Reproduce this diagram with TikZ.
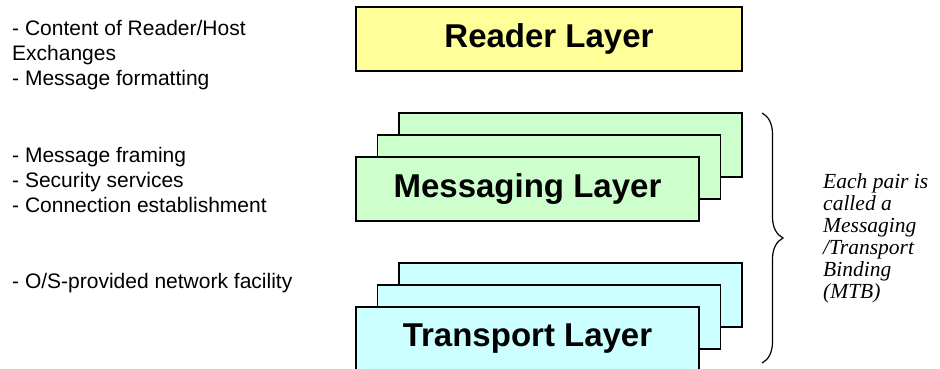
\documentclass[tikz,border=0pt]{standalone}
\usepackage{fontspec}
\setmainfont{Liberation Serif}
\setsansfont{Liberation Sans}
\usetikzlibrary{decorations.pathreplacing}

\definecolor{readerfill}{HTML}{FFFF99}
\definecolor{msgfill}{HTML}{CCFFCC}
\definecolor{transfill}{HTML}{CCFFFF}

\tikzset{
	layer/.style={draw=black, line width=1.2pt, minimum width=343pt, minimum height=64pt,
		inner sep=0pt, font=\sffamily\bfseries\fontsize{33}{36}\selectfont},
	% notes sit on the baseline of their last line
	notes/.style={align=left, inner sep=0pt, anchor=base west,
		font=\sffamily\fontsize{21}{25}\selectfont},
}
\newcommand{\sheetdx}{21.5} % offset of each sheet behind the front one
\newcommand{\sheetdy}{22}

\begin{document}
\begin{tikzpicture}[x=1pt, y=-1pt]
	\useasboundingbox (0,0) rectangle (940,369);
	% top layer
	\node[layer, fill=readerfill, minimum width=386pt] (reader) at (549,39) {Reader Layer};
	% messaging stack, back sheets first
	\foreach \k in {2,1} {
		\node[layer, fill=msgfill] (msg\k) at (527.5+\k*\sheetdx, 189-\k*\sheetdy) {};
	}
	\node[layer, fill=msgfill] (msg) at (527.5,189) {Messaging Layer};
	% transport stack
	\foreach \k in {2,1} {
		\node[layer, fill=transfill] (trans\k) at (527.5+\k*\sheetdx, 339-\k*\sheetdy) {};
	}
	\node[layer, fill=transfill] (trans) at (527.5,339) {Transport Layer};
	% what each layer does
	\node[notes] (readernotes) at (12,85) {- Content of Reader/Host\\Exchanges\\- Message formatting};
	\node[notes] (msgnotes) at (12,212) {- Message framing\\- Security services\\- Connection establishment};
	\node[notes] (transnotes) at (12,288) {- O/S-provided network facility};
	% brace over both stacks
	\coordinate (braceTop) at (762,113);
	\coordinate (braceBot) at (762,363);
	\draw[decorate, decoration={brace, amplitude=21pt}, line width=1.2pt] (braceTop) -- (braceBot);
	\node[notes, font=\rmfamily\itshape\fontsize{21.5}{22}\selectfont] (mtb) at (823,298)
		{Each pair is\\called a\\Messaging\\/Transport\\Binding\\(MTB)};
\end{tikzpicture}
\end{document}
